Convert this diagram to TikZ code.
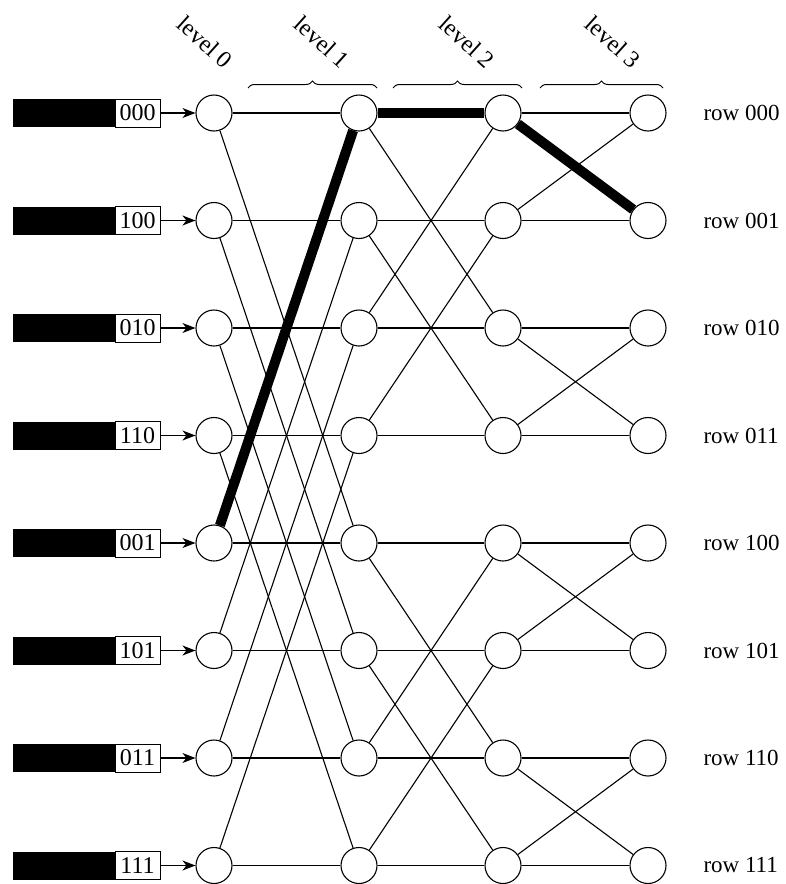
\documentclass[tikz,border=0pt]{standalone}
\usepackage{fontspec}
\setmainfont{Liberation Serif}
\usetikzlibrary{arrows.meta,decorations.pathreplacing}
\begin{document}
\begin{tikzpicture}[x=1pt,y=1pt,
  sw/.style={draw,circle,minimum size=36pt,inner sep=0pt,fill=white,line width=1.1pt},
  wire/.style={line width=1.1pt},
  hot/.style={line width=10pt},
  lab/.style={draw,fill=white,minimum width=45pt,minimum height=28pt,inner sep=0pt,line width=1pt,font=\fontsize{24}{24}\selectfont},
  bar/.style={fill=black,minimum width=102pt,minimum height=28pt,inner sep=0pt},
  rowlab/.style={anchor=west,font=\fontsize{23}{23}\selectfont},
  lev/.style={rotate=-42,font=\fontsize{24}{24}\selectfont},
  brc/.style={decorate,decoration={brace,amplitude=7pt},line width=1pt},
  inarrow/.style={line width=1.1pt,-{Stealth[length=13pt,width=10pt,inset=4pt]}}
]
\useasboundingbox (0,-884) rectangle (785,0);
\foreach \r/\inl/\rl in {0/000/000,1/100/001,2/010/010,3/110/011,4/001/100,5/101/101,6/011/110,7/111/111}{
  \pgfmathsetmacro{\yy}{-113-107.5*\r}
  \node[sw] (a\r) at (214,\yy) {};
  \node[sw] (b\r) at (359,\yy) {};
  \node[sw] (c\r) at (503,\yy) {};
  \node[sw] (d\r) at (648,\yy) {};
  \node[bar] (bar\r) at (64,\yy) {};
  \node[lab] (lab\r) at (137.5,\yy) {\inl};
  \node[rowlab] (rl\r) at (700,\yy) {row \rl};
  \draw[inarrow] (lab\r) -- (a\r);
}
% straight wires
\foreach \r in {0,...,7}{
  \draw[wire] (a\r) -- (b\r);
  \draw[wire] (b\r) -- (c\r);
  \draw[wire] (c\r) -- (d\r);
}
% cross wires
\foreach \i/\j in {0/4,1/5,2/6,3/7,4/0,5/1,6/2,7/3}{\draw[wire] (a\i) -- (b\j);}
\foreach \i/\j in {0/2,1/3,2/0,3/1,4/6,5/7,6/4,7/5}{\draw[wire] (b\i) -- (c\j);}
\foreach \i/\j in {0/1,1/0,2/3,3/2,4/5,5/4,6/7,7/6}{\draw[wire] (c\i) -- (d\j);}
% highlighted path
\draw[hot] (a4) -- (b0);
\draw[hot] (b0) -- (c0);
\draw[hot] (c0) -- (d1);
% level labels
\node[lev] (lev0) at (205,-42) {level 0};
\node[lev] (lev1) at (322,-42) {level 1};
\node[lev] (lev2) at (467,-42) {level 2};
\node[lev] (lev3) at (613,-42) {level 3};
\draw[brc] (248,-88) -- (377,-88);
\draw[brc] (393,-88) -- (522,-88);
\draw[brc] (540,-88) -- (663,-88);
\end{tikzpicture}
\end{document}
